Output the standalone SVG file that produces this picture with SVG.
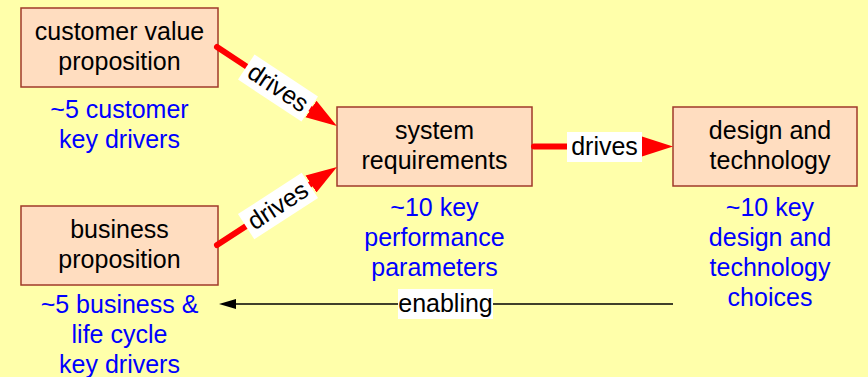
<svg xmlns="http://www.w3.org/2000/svg" width="868" height="377" viewBox="0 0 868 377">
<style>
text{font-family:"Liberation Sans",Arial,sans-serif;font-size:25px;text-anchor:middle}
.box{fill:#FFDDC0;stroke:#A03A2A;stroke-width:1.5}
.t{fill:#000}
.b{fill:#0000FF}
.red{stroke:#FF0000;stroke-width:6;stroke-linecap:round;fill:none}
.lbl{fill:#FFFFFF}
</style>
<defs>
<marker id="rh" markerUnits="userSpaceOnUse" markerWidth="32" markerHeight="22" refX="0" refY="10" orient="auto" viewBox="0 0 32 20">
<path d="M0,0 L31,10 L0,20 z" fill="#FF0000"/>
</marker>
<marker id="bh" markerUnits="userSpaceOnUse" markerWidth="18" markerHeight="12" refX="0" refY="5" orient="auto" viewBox="0 0 18 10">
<path d="M0,0 L17,5 L0,10 z" fill="#000"/>
</marker>
</defs>
<rect width="868" height="377" fill="#FFFFAA"/>
<g id="cvp">
<rect class="box" x="21" y="8" width="197" height="79"/>
<text class="t" x="119.5" y="40">customer value</text>
<text class="t" x="119.5" y="70">proposition</text>
<text class="b" x="119.5" y="118">~5 customer</text>
<text class="b" x="119.5" y="148">key drivers</text>
</g>
<g id="bp">
<rect class="box" x="21" y="206" width="197" height="79"/>
<text class="t" x="119.5" y="238">business</text>
<text class="t" x="119.5" y="268">proposition</text>
<text class="b" x="119.5" y="313">~5 business &amp;</text>
<text class="b" x="119.5" y="343">life cycle</text>
<text class="b" x="119.5" y="373">key drivers</text>
</g>
<g id="sr">
<rect class="box" x="337" y="107" width="195" height="79"/>
<text class="t" x="434.5" y="139">system</text>
<text class="t" x="434.5" y="169">requirements</text>
<text class="b" x="434.5" y="216">~10 key</text>
<text class="b" x="434.5" y="246">performance</text>
<text class="b" x="434.5" y="276">parameters</text>
</g>
<g id="dt">
<rect class="box" x="673" y="107" width="184" height="79"/>
<text class="t" x="770" y="139">design and</text>
<text class="t" x="770" y="169">technology</text>
<text class="b" x="770" y="216">~10 key</text>
<text class="b" x="770" y="246">design and</text>
<text class="b" x="770" y="276">technology</text>
<text class="b" x="770" y="306">choices</text>
</g>
<g id="connectors">
<line class="red" x1="217" y1="47" x2="311" y2="109" marker-end="url(#rh)"/>
<g transform="translate(278,88) rotate(33.4)">
<rect class="lbl" x="-38" y="-15" width="76" height="30"/>
<text class="t" x="0" y="8">drives</text>
</g>
<line class="red" x1="217" y1="245" x2="311" y2="184" marker-end="url(#rh)"/>
<g transform="translate(278,206) rotate(-33)">
<rect class="lbl" x="-38" y="-15" width="76" height="30"/>
<text class="t" x="0" y="8">drives</text>
</g>
<line class="red" x1="534" y1="146.5" x2="642" y2="146.5" marker-end="url(#rh)"/>
<rect class="lbl" x="567" y="132" width="75" height="30"/>
<text class="t" x="604.5" y="155">drives</text>
<line x1="673" y1="304" x2="236" y2="304" stroke="#000" stroke-width="1.6" marker-end="url(#bh)"/>
<rect class="lbl" x="398" y="289" width="95" height="30"/>
<text class="t" x="445.5" y="312">enabling</text>
</g>
</svg>
